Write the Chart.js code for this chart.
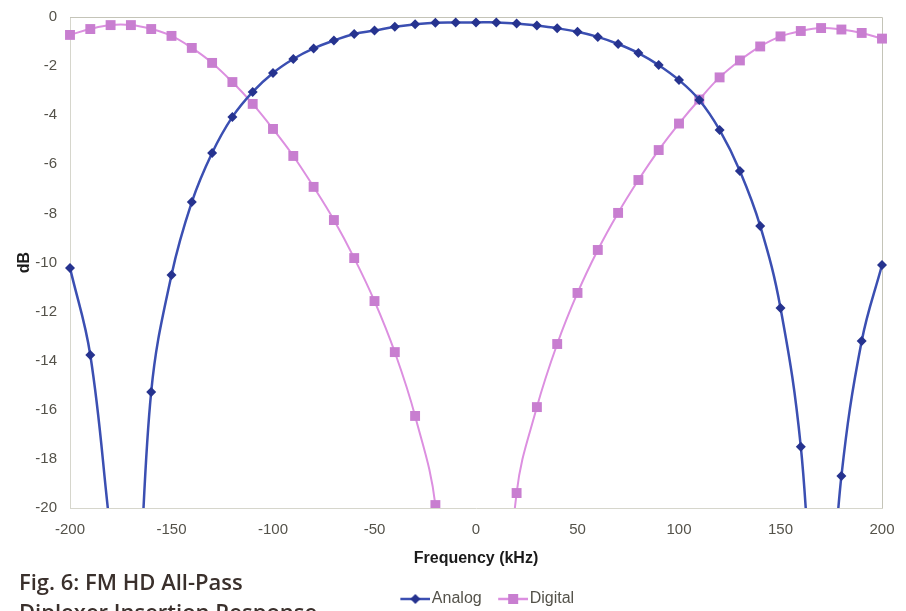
<!DOCTYPE html>
<html>
<head>
<meta charset="utf-8">
<script src="https://cdn.jsdelivr.net/npm/chart.js@4.4.1/dist/chart.umd.min.js"></script>
<style>
  html, body { margin: 0; padding: 0; background: #ffffff; }
  #wrap { position: relative; width: 906px; height: 611px; overflow: hidden; background: #ffffff; }
  #chart { position: absolute; left: 0; top: 0; }
  #caption {
    position: absolute; left: 19px; top: 566px;
    font-family: "Open Sans", "Noto Sans", sans-serif; font-weight: 600;
    font-size: 22px; line-height: 30px; color: #3a302c;
    transform-origin: left top; white-space: nowrap;
  }
</style>
</head>
<body>
<div id="wrap">
  <canvas id="chart" width="906" height="611"></canvas>
  <div id="caption">Fig. 6: FM HD All-Pass<br>Diplexer Insertion Response</div>
</div>
<script>
// ---- data ----
const frequencies = [-200, -190, -180, -170, -160, -150, -140, -130, -120, -110,
                     -100, -90, -80, -70, -60, -50, -40, -30, -20, -10,
                     0, 10, 20, 30, 40, 50, 60, 70, 80, 90,
                     100, 110, 120, 130, 140, 150, 160, 170, 180, 190, 200];

const analogDb = [-10.22, -13.77, -21.0, -27.5, -15.27, -10.51, -7.54, -5.54, -4.07, -3.05,
                  -2.28, -1.71, -1.28, -0.96, -0.69, -0.55, -0.40, -0.30, -0.23, -0.22,
                  -0.22, -0.22, -0.26, -0.35, -0.46, -0.60, -0.81, -1.10, -1.47, -1.96,
                  -2.57, -3.38, -4.60, -6.27, -8.51, -11.85, -17.5, -28.0, -18.7, -13.2, -10.1];

const digitalDb = [-0.73, -0.49, -0.33, -0.33, -0.49, -0.77, -1.26, -1.87, -2.65, -3.54,
                   -4.56, -5.66, -6.92, -8.27, -9.82, -11.57, -13.65, -16.25, -19.88, -30.0,
                   -45.0, -30.0, -19.39, -15.89, -13.32, -11.24, -9.49, -7.98, -6.64, -5.42,
                   -4.34, -3.36, -2.46, -1.77, -1.20, -0.79, -0.57, -0.45, -0.51, -0.65, -0.88];

const xTickValues = [-200, -150, -100, -50, 0, 50, 100, 150, 200];
const yTickValues = [0, -2, -4, -6, -8, -10, -12, -14, -16, -18, -20];
const seriesNames = ["Analog", "Digital"];
const xTitle = "Frequency (kHz)";
const yTitle = "dB";

// ---- styling ----
const ANALOG_LINE = '#3b4fb2';
const ANALOG_PT = '#26338f';
const DIGITAL_LINE = '#dc8fe0';
const DIGITAL_PT = '#c87ed0';
const TEXT = '#54524a';

function legendIcon(lineColor, ptColor, shape) {
  // 43px wide image: blank 13px on the left so the visible icon sits close to its label
  const c = document.createElement('canvas');
  c.width = 43; c.height = 12;
  const g = c.getContext('2d');
  g.strokeStyle = lineColor; g.lineWidth = 2.5;
  g.beginPath(); g.moveTo(13, 6); g.lineTo(43, 6); g.stroke();
  g.fillStyle = ptColor;
  if (shape === 'diamond') {
    g.beginPath(); g.moveTo(28, 1); g.lineTo(33, 6); g.lineTo(28, 11); g.lineTo(23, 6); g.closePath(); g.fill();
  } else {
    g.fillRect(23, 1, 10, 10);
  }
  return c;
}
const iconA = legendIcon(ANALOG_LINE, ANALOG_PT, 'diamond');
const iconD = legendIcon(DIGITAL_LINE, DIGITAL_PT, 'square');

const toPoints = (ys) => frequencies.map((f, i) => ({ x: f, y: ys[i] }));

const frame = {
  id: 'frame',
  beforeDatasetsDraw(chart) {
    const { ctx, chartArea: a } = chart;
    ctx.save();
    ctx.strokeStyle = '#c4c4b8';
    ctx.lineWidth = 1;
    ctx.beginPath();
    ctx.moveTo(a.left, a.top + 0.5); ctx.lineTo(a.right + 0.5, a.top + 0.5);
    ctx.lineTo(a.right + 0.5, a.bottom);
    ctx.stroke();
    ctx.restore();
  }
};
const legendShift = {
  id: 'legendShift',
  afterLayout(chart) {
    const l = chart.legend;
    if (l) { l.left += 43; l.right += 43; l.top += 6; l.bottom += 6; }
  }
};

new Chart(document.getElementById('chart'), {
  type: 'line',
  data: {
    datasets: [
      {
        label: seriesNames[0], data: toPoints(analogDb),
        borderColor: ANALOG_LINE, borderWidth: 2.5,
        pointStyle: 'rectRot', pointRadius: 5,
        pointBackgroundColor: ANALOG_PT, pointBorderColor: ANALOG_PT, pointBorderWidth: 0,
        tension: 0.4, clip: { left: 10, right: 10, top: 10, bottom: 0 }
      },
      {
        label: seriesNames[1], data: toPoints(digitalDb),
        borderColor: DIGITAL_LINE, borderWidth: 2,
        pointStyle: 'rect', pointRadius: 7,
        pointBackgroundColor: DIGITAL_PT, pointBorderColor: DIGITAL_PT, pointBorderWidth: 0,
        tension: 0.4, clip: { left: 10, right: 10, top: 10, bottom: 0 }
      }
    ]
  },
  options: {
    responsive: false,
    animation: false,
    elements: { line: { capBezierPoints: false } },
    layout: { padding: { left: 0, right: 24, top: 17, bottom: 0 } },
    scales: {
      x: {
        type: 'linear', min: -200, max: 200,
        afterBuildTicks(scale) { scale.ticks = xTickValues.map(v => ({ value: v })); },
        afterFit(scale) { scale.height = 67; },
        grid: { display: false, drawTicks: true, tickLength: 10 },
        border: { display: true, color: '#d6d6cc', width: 1 },
        ticks: { color: TEXT, font: { family: 'Liberation Sans', size: 15 }, padding: 3, maxRotation: 0 },
        title: { display: true, text: xTitle, color: '#1a1a1a',
                 font: { family: 'Liberation Sans', size: 16, weight: 'bold' }, padding: { top: 0, bottom: 7 } }
      },
      y: {
        type: 'linear', min: -20, max: 0,
        afterBuildTicks(scale) { scale.ticks = yTickValues.map(v => ({ value: v })); },
        afterFit(scale) { scale.width = 70; },
        grid: { display: false, drawTicks: true, tickLength: 10 },
        border: { display: true, color: '#d6d6cc', width: 1 },
        ticks: { color: TEXT, font: { family: 'Liberation Sans', size: 15 }, padding: 3 },
        title: { display: true, text: yTitle, color: '#1a1a1a',
                 font: { family: 'Liberation Sans', size: 16, weight: 'bold' }, padding: { top: 15, bottom: 0 } }
      }
    },
    plugins: {
      legend: {
        position: 'bottom',
        labels: {
          usePointStyle: true, pointStyleWidth: 30,
          color: TEXT, font: { family: 'Liberation Sans', size: 16 },
          padding: 10,
          generateLabels() {
            return [
              { text: seriesNames[0], pointStyle: iconA, fillStyle: ANALOG_PT, strokeStyle: ANALOG_LINE, lineWidth: 0, datasetIndex: 0, fontColor: TEXT },
              { text: seriesNames[1], pointStyle: iconD, fillStyle: DIGITAL_PT, strokeStyle: DIGITAL_LINE, lineWidth: 0, datasetIndex: 1, fontColor: TEXT }
            ];
          }
        }
      },
      tooltip: { enabled: false }
    }
  },
  plugins: [frame, legendShift]
});
</script>
</body>
</html>
